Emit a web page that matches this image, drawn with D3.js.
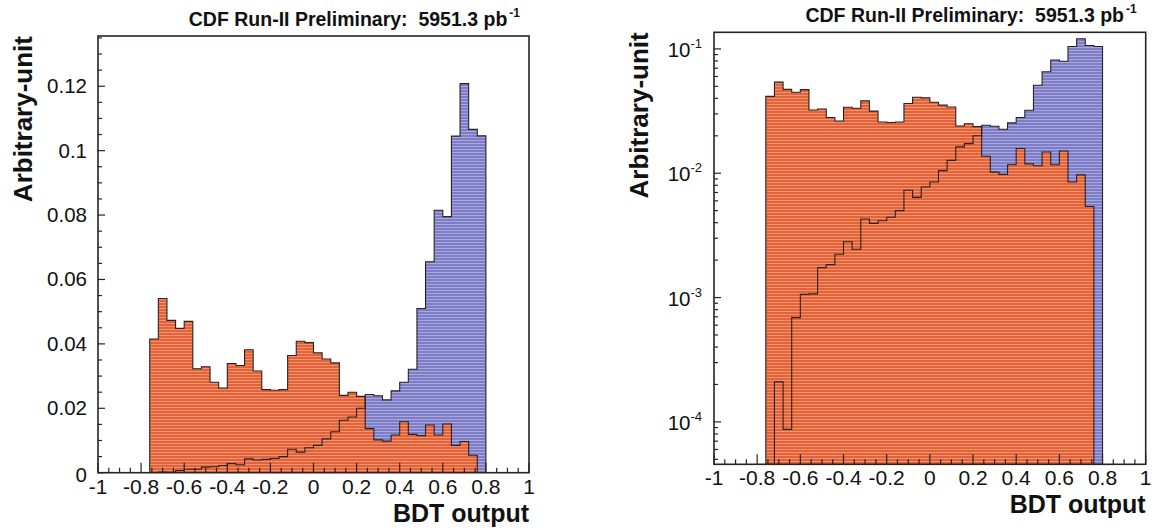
<!DOCTYPE html>
<html>
<head>
<meta charset="utf-8">
<script src="https://cdn.jsdelivr.net/npm/d3@7"></script>
<style>
  body { margin: 0; background: #fff; }
  svg { display: block; font-family: "Liberation Sans", Arial, Helvetica, sans-serif; }
</style>
</head>
<body>
<div id="chart"></div>
<script>
// bin edges of the BDT output histograms (width 0.04)
const binEdges = [-0.76, -0.72, -0.68, -0.64, -0.60, -0.56, -0.52, -0.48, -0.44, -0.40,
  -0.36, -0.32, -0.28, -0.24, -0.20, -0.16, -0.12, -0.08, -0.04, 0.00,
  0.04, 0.08, 0.12, 0.16, 0.20, 0.24, 0.28, 0.32, 0.36, 0.40,
  0.44, 0.48, 0.52, 0.56, 0.60, 0.64, 0.68, 0.72, 0.76, 0.80];

// signal (blue), 39 bins from -0.76 to 0.80
const signal = [0, 0.00021, 0.000087, 0.00069, 0.00106, 0.00107, 0.00174, 0.00184, 0.00223, 0.00281,
  0.00245, 0.00428, 0.00395, 0.00415, 0.00443, 0.0050, 0.0073, 0.0064, 0.00775, 0.0085,
  0.0105, 0.0127, 0.0163, 0.0173, 0.0200, 0.0243, 0.0239, 0.0226, 0.0254, 0.0281,
  0.0321, 0.0510, 0.0655, 0.0815, 0.0795, 0.1045, 0.1208, 0.1066, 0.1046];

// background (red), 38 bins from -0.76 to 0.76
const background = [0.0415, 0.0541, 0.0473, 0.0448, 0.0470, 0.0323, 0.0329, 0.0281, 0.0263, 0.0339,
  0.0333, 0.0382, 0.0316, 0.0258, 0.0256, 0.0258, 0.0364, 0.0408, 0.0404, 0.0372,
  0.0353, 0.0341, 0.0240, 0.0250, 0.0237, 0.0137, 0.0102, 0.0098, 0.0117, 0.0158,
  0.0119, 0.0115, 0.0148, 0.0117, 0.0151, 0.0085, 0.0097, 0.0054];

const xTicks = [-1, -0.8, -0.6, -0.4, -0.2, 0, 0.2, 0.4, 0.6, 0.8, 1];
const xTickLabels = ['-1', '-0.8', '-0.6', '-0.4', '-0.2', '0', '0.2', '0.4', '0.6', '0.8', '1'];
const linTicks = [0, 0.02, 0.04, 0.06, 0.08, 0.1, 0.12];
const linTickLabels = ['0', '0.02', '0.04', '0.06', '0.08', '0.1', '0.12'];
const logTicks = [1e-4, 1e-3, 1e-2, 1e-1];
const logExponents = ['-4', '-3', '-2', '-1'];

const titleText = 'CDF Run-II Preliminary:\u00a0\u00a05951.3 pb';
const xTitle = 'BDT output';
const yTitle = 'Arbitrary-unit';

const panels = [
  { type: 'lin', left: 98, right: 529, top: 36, bottom: 472.7, domain: [0, 0.1356] },
  { type: 'log', left: 714, right: 1145.7, top: 32.3, bottom: 464.3, domain: [4.56e-5, 0.136] }
];

const ink = '#2a2222';

const svg = d3.select('#chart').append('svg')
  .attr('width', 1159)
  .attr('height', 530);

// striped fills, like the scanned ROOT plot
const defs = svg.append('defs');
const stripes = (id, base, light) => {
  const p = defs.append('pattern')
    .attr('id', id)
    .attr('patternUnits', 'userSpaceOnUse')
    .attr('width', 6)
    .attr('height', 3);
  p.append('rect').attr('width', 6).attr('height', 3).attr('fill', base);
  p.append('rect').attr('y', 2).attr('width', 6).attr('height', 1).attr('fill', light);
};
stripes('redFill', '#e3623a', '#f0946c');
stripes('blueFill', '#7d7dc6', '#a8a8de');

const histPoints = (values, base) => {
  const n = values.length;
  const pts = [[binEdges[0], base]];
  values.forEach((v, i) => pts.push([binEdges[i], v]));
  pts.push([binEdges[n], values[n - 1]]);
  pts.push([binEdges[n], base]);
  return pts;
};

panels.forEach((p, k) => {
  const x = d3.scaleLinear().domain([-1, 1]).range([p.left, p.right]);
  const y = (p.type === 'lin' ? d3.scaleLinear() : d3.scaleLog())
    .domain(p.domain).range([p.bottom, p.top]);
  const base = p.domain[0];
  const yv = v => y(Math.max(v, base));

  const line = d3.line()
    .x(d => x(d[0]))
    .y(d => yv(d[1]))
    .curve(d3.curveStepAfter);

  svg.append('clipPath').attr('id', 'clip' + k)
    .append('rect')
    .attr('x', p.left).attr('y', p.top)
    .attr('width', p.right - p.left).attr('height', p.bottom - p.top);

  const g = svg.append('g').attr('clip-path', `url(#clip${k})`);

  const sigPts = histPoints(signal, base);
  const bkgPts = histPoints(background, base);

  g.append('path').attr('d', line(sigPts)).attr('fill', 'url(#blueFill)').attr('stroke', 'none');
  g.append('path').attr('d', line(bkgPts)).attr('fill', 'url(#redFill)').attr('stroke', 'none');
  g.append('path').attr('d', line(sigPts)).attr('fill', 'none')
    .attr('stroke', ink).attr('stroke-width', 1.1);
  g.append('path').attr('d', line(bkgPts)).attr('fill', 'none')
    .attr('stroke', ink).attr('stroke-width', 1.1);

  const axes = svg.append('g')
    .attr('stroke', ink)
    .attr('stroke-width', 1.2);

  // x ticks, drawn inward
  axes.selectAll(null)
    .data(x.ticks(40))
    .join('line')
      .attr('x1', d => x(d)).attr('x2', d => x(d))
      .attr('y1', p.bottom)
      .attr('y2', d => p.bottom - (xTicks.some(t => Math.abs(t - d) < 1e-6) ? 10 : 5));

  // y ticks
  let yMinor;
  if (p.type === 'lin') {
    yMinor = d3.range(0, p.domain[1], 0.005);
  } else {
    yMinor = y.ticks().filter(d => d >= p.domain[0] && d <= p.domain[1]);
  }
  const majors = p.type === 'lin' ? linTicks : logTicks;
  axes.selectAll(null)
    .data(yMinor)
    .join('line')
      .attr('y1', d => y(d)).attr('y2', d => y(d))
      .attr('x1', p.left)
      .attr('x2', d => p.left + (majors.some(t => Math.abs(t - d) / t < 1e-6 || (t === 0 && d === 0)) ? 7 : 4));

  // frame
  svg.append('rect')
    .attr('x', p.left).attr('y', p.top)
    .attr('width', p.right - p.left).attr('height', p.bottom - p.top)
    .attr('fill', 'none')
    .attr('stroke', ink)
    .attr('stroke-width', 1.6);

  // x tick labels
  svg.append('g')
    .attr('font-size', 21)
    .attr('fill', '#111')
    .attr('text-anchor', 'middle')
    .selectAll(null)
    .data(xTicks)
    .join('text')
      .attr('x', d => x(d))
      .attr('y', p.bottom + 21)
      .text((d, i) => xTickLabels[i]);

  // y tick labels
  if (p.type === 'lin') {
    svg.append('g')
      .attr('font-size', 20.5)
      .attr('fill', '#111')
      .attr('text-anchor', 'end')
      .selectAll(null)
      .data(linTicks)
      .join('text')
        .attr('x', p.left - 11)
        .attr('y', (d, i) => y(d) + (i === 0 ? 9 : 7))
        .text((d, i) => linTickLabels[i]);
  } else {
    const lab = svg.append('g')
      .attr('fill', '#111')
      .attr('text-anchor', 'end')
      .selectAll(null)
      .data(logTicks)
      .join('text')
        .attr('x', p.left - 12)
        .attr('y', d => y(d) + 8)
        .attr('font-size', 20.5);
    lab.append('tspan').text('10');
    lab.append('tspan')
      .attr('font-size', 13)
      .attr('dy', -9)
      .text((d, i) => logExponents[i]);
  }

  // titles
  const t = svg.append('text')
    .attr('x', p.right - 9)
    .attr('y', p.top - 10)
    .attr('text-anchor', 'end')
    .attr('font-weight', 'bold')
    .attr('font-size', 19.5)
    .attr('fill', '#111');
  t.append('tspan').text(titleText);
  t.append('tspan').attr('font-size', 12).attr('dy', -9).attr('dx', 2).text('-1');

  svg.append('text')
    .attr('x', p.right)
    .attr('y', p.bottom + 49)
    .attr('text-anchor', 'end')
    .attr('font-weight', 'bold')
    .attr('font-size', 25)
    .attr('fill', '#111')
    .text(xTitle);

  svg.append('text')
    .attr('transform', `translate(${p.left - 66},${p.top}) rotate(-90)`)
    .attr('text-anchor', 'end')
    .attr('font-weight', 'bold')
    .attr('font-size', 26)
    .attr('fill', '#111')
    .text(yTitle);
});
</script>
</body>
</html>
